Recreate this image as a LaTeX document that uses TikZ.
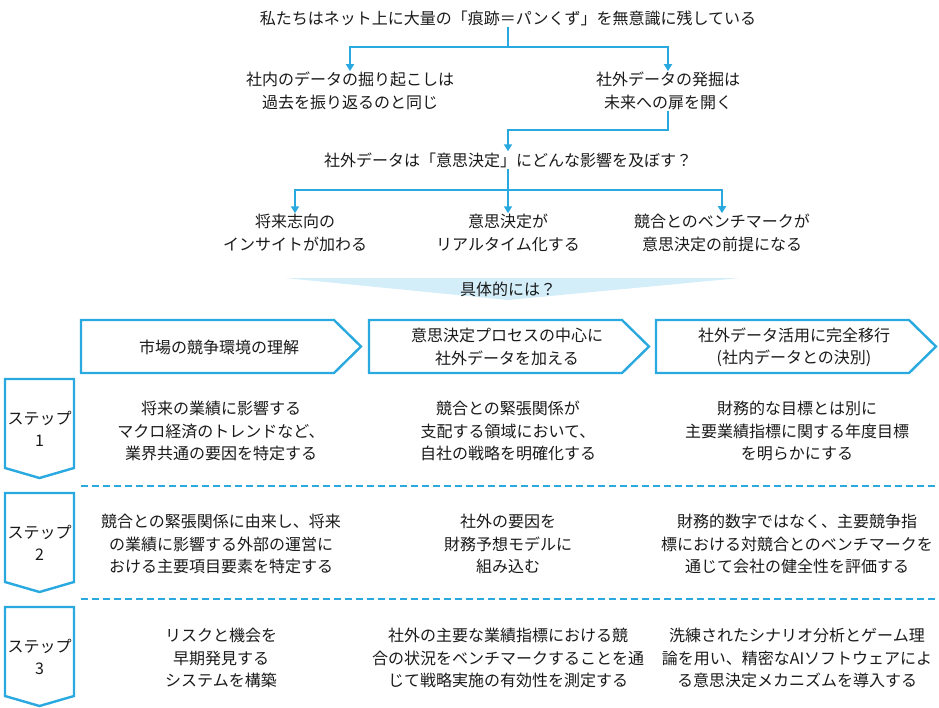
\documentclass[tikz,border=0pt]{standalone}
\usepackage{fontspec}
\newfontfamily\jpfont{Noto Sans CJK JP}
\usepackage{tikz}
\usetikzlibrary{arrows.meta,calc}
\definecolor{acc}{HTML}{29A9E0}
\definecolor{soft}{HTML}{D3EEF9}
\definecolor{ink}{HTML}{1A1A1A}
\tikzset{
  >={Triangle[length=7pt,width=8pt]},
  txt/.style={font=\jpfont\fontsize{16}{22.3}\selectfont,align=center,text=ink,inner sep=1pt},
  line/.style={draw=acc,line width=2.2pt},
  arr/.style={line,->},
  shp/.style={draw=acc,line width=2.4pt,fill=white,line join=miter},
  sep/.style={draw=acc,line width=2pt,dash pattern=on 7pt off 4pt},
}

\begin{document}
\begin{tikzpicture}[x=1pt,y=-1pt]
\useasboundingbox (0,0) rectangle (939,707);
% top flow
\node[txt] (top) at (508,18) {私たちはネット上に大量の「痕跡＝パンくず」を無意識に残している};
\node[txt] (in) at (350,91) {社内のデータの掘り起こしは\\過去を振り返るのと同じ};
\node[txt] (out) at (668,91) {社外データの発掘は\\未来への扉を開く};
\node[txt] (q) at (508,160) {社外データは「意思決定」にどんな影響を及ぼす？};
\node[txt] (e1) at (295,233) {将来志向の\\インサイトが加わる};
\node[txt] (e2) at (508,233) {意思決定が\\リアルタイム化する};
\node[txt] (e3) at (722,233) {競合とのベンチマークが\\意思決定の前提になる};
\coordinate (j1) at (508,47);
\coordinate (j2) at (508,130);
\coordinate (j3) at (508,190);
\draw[line] (top.south) -- (j1);
\foreach \n in {in,out} \draw[arr] (j1) -| (\n.north);
\draw[arr] (out.south) |- (j2) -- (q.north);
\draw[line] (q.south) -- (j3);
\foreach \n in {e1,e2,e3} \draw[arr] (j3) -| (\n.north);

\fill[soft] (285,278) -- (740,278) -- (508,300) -- cycle;
\node[txt] (how) at (508,289) {具体的には？};

% chevrons
\foreach \x/\t [count=\i] in {81/{市場の競争環境の理解},369/{意思決定プロセスの中心に\\社外データを加える},656/{社外データ活用に完全移行\\(社内データとの決別)}} {
  \draw[shp] (\x,320) -- ++(253,0) -- ++(27,26.5) -- ++(-27,26.5) -- ++(-253,0) -- cycle;
  \node[txt] (h\i) at (\x+138,347) {\t};
}

% steps
\foreach \y [count=\i] in {379,493,607} {
  \draw[shp] (5,\y) -- (74,\y) -- (74,\y+89) -- (39.5,\y+99) -- (5,\y+89) -- cycle;
  \node[txt] (s\i) at (39.5,\y+50) {ステップ\\\i};
}
\draw[sep] (81,486) -- (936,486);
\draw[sep] (81,599) -- (936,599);

% cells
\node[txt] (c11) at (221,431) {将来の業績に影響する\\マクロ経済のトレンドなど、\\業界共通の要因を特定する};
\node[txt] (c12) at (508,431) {競合との緊張関係が\\支配する領域において、\\自社の戦略を明確化する};
\node[txt] (c13) at (797,431) {財務的な目標とは別に\\主要業績指標に関する年度目標\\を明らかにする};
\node[txt] (c21) at (221,544) {競合との緊張関係に由来し、将来\\の業績に影響する外部の運営に\\おける主要項目要素を特定する};
\node[txt] (c22) at (508,544) {社外の要因を\\財務予想モデルに\\組み込む};
\node[txt] (c23) at (797,544) {財務的数字ではなく、主要競争指\\標における対競合とのベンチマークを\\通じて会社の健全性を評価する};
\node[txt] (c31) at (221,658) {リスクと機会を\\早期発見する\\システムを構築};
\node[txt] (c32) at (508,658) {社外の主要な業績指標における競\\合の状況をベンチマークすることを通\\じて戦略実施の有効性を測定する};
\node[txt] (c33) at (797,658) {洗練されたシナリオ分析とゲーム理\\論を用い、精密なAIソフトウェアによ\\る意思決定メカニズムを導入する};
\end{tikzpicture}
\end{document}
